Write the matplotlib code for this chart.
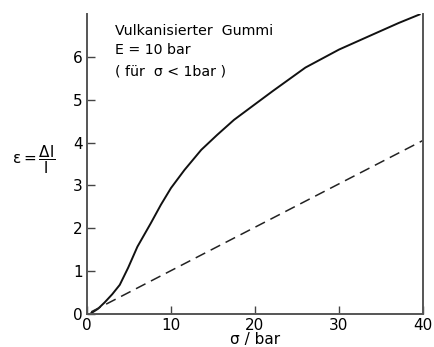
import matplotlib
matplotlib.use("Agg")
import matplotlib.pyplot as plt

# Spannungs-Dehnungs-Kurve von vulkanisiertem Gummi
sigma = [0.5, 1.3, 2.1, 3.0, 3.9, 4.9, 6.0, 7.6, 8.8, 10.0, 11.6, 13.6, 15.5, 17.5, 19.9,
         22.1, 26.0, 30.0, 34.0, 37.1, 39.6]
eps = [0.02, 0.12, 0.27, 0.46, 0.68, 1.08, 1.57, 2.12, 2.55, 2.94, 3.36, 3.83, 4.18, 4.53, 4.88,
       5.2, 5.75, 6.17, 6.52, 6.79, 6.99]

# Hookesche Gerade mit E = 10 bar
sigma_lin = [0.5, 40]
eps_lin = [0.05, 4.05]

plt.rcParams['font.family'] = ['DejaVu Sans']
plt.rcParams['mathtext.fontset'] = 'dejavusans'

fig = plt.figure(figsize=(4.35, 3.47), dpi=100)
ax = fig.add_axes([87/435, 33/347, 336/435, 300/347])

ax.plot(sigma, eps, color='#111111', lw=1.4)
ax.plot(sigma_lin, eps_lin, color='#222222', lw=1.1, dashes=(7, 4))

ax.set_xlim(0, 40)
ax.set_ylim(0, 7)
ax.set_xticks([0, 10, 20, 30, 40])
ax.set_yticks([0, 1, 2, 3, 4, 5, 6])
ax.tick_params(direction='in', length=6, width=1, color='#444444', labelsize=11, pad=3)
ax.spines['top'].set_visible(False)
for s in ['left', 'bottom', 'right']:
    ax.spines[s].set_color('#555555')
    ax.spines[s].set_linewidth(1.4)

ax.set_xlabel('σ / bar', fontsize=11, labelpad=-1)
fig.text(12/435, 1 - 160/347, r'$\mathregular{ε = \dfrac{Δl}{l}}$', fontsize=11, va='center', ha='left')

ax.text(3.3, 6.6, 'Vulkanisierter  Gummi', fontsize=10.2, va='center')
ax.text(3.3, 6.15, 'E = 10 bar', fontsize=10.2, va='center')
ax.text(3.3, 5.65, '( für  σ < 1bar )', fontsize=10.2, va='center')

fig.savefig('out.png', dpi=100)
